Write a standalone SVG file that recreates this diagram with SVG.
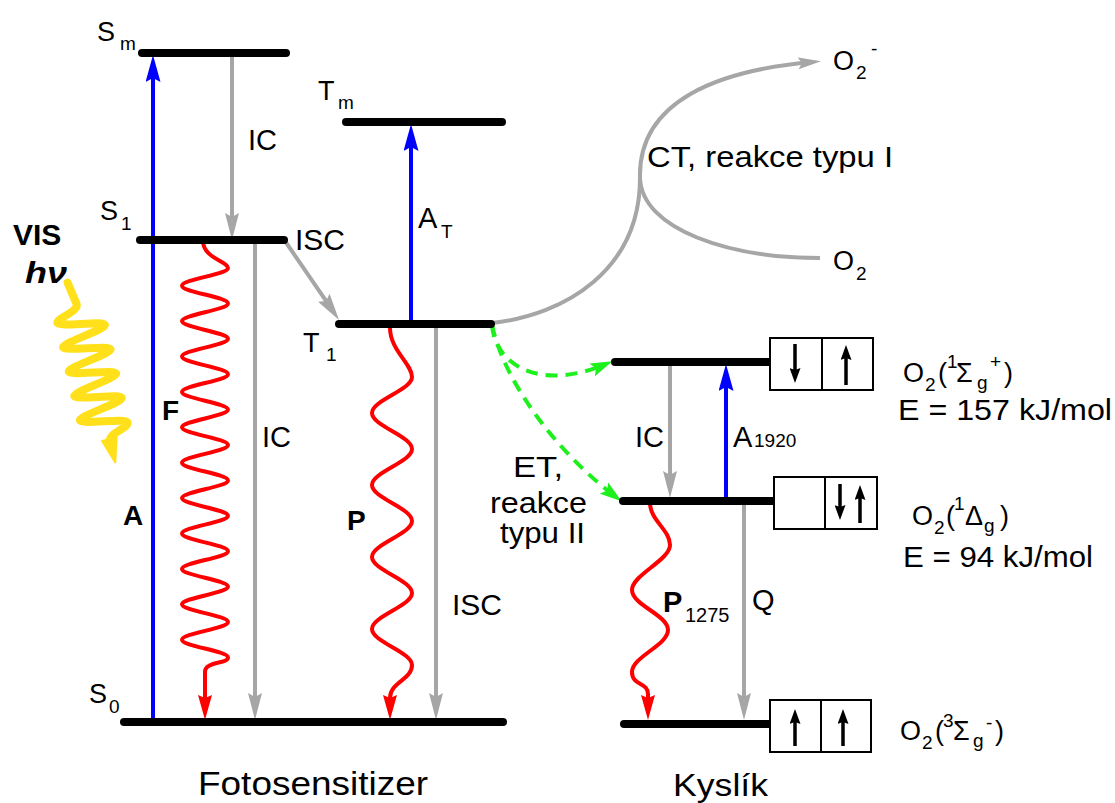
<svg xmlns="http://www.w3.org/2000/svg" width="1115" height="803" viewBox="0 0 1115 803">
<style>
.lvl{stroke:#000;stroke-width:8;stroke-linecap:round;fill:none}
.gray{stroke:#A6A6A6;stroke-width:4;fill:none}
.blue{stroke:#0000FF;stroke-width:4;fill:none}
.red{stroke:#FF0000;stroke-width:4;fill:none;stroke-linejoin:round}
.green{stroke:#1EF01E;stroke-width:4;fill:none;stroke-dasharray:12 8}
.yel{stroke:#FFE01B;stroke-width:8;fill:none;stroke-linecap:round;stroke-linejoin:round}
.box{fill:#fff;stroke:#000;stroke-width:2}
.div{stroke:#000;stroke-width:2;fill:none}
.bar{stroke:#000;stroke-width:3.5;fill:none}
text{font-family:"Liberation Sans",Arial,sans-serif;fill:#000}
.l{font-size:27px}
.s{font-size:19px}
.m{font-size:29px}
.b{font-size:28px;font-weight:bold}
</style>
<defs>
<marker id="ahGray" viewBox="0 0 27 14" markerWidth="27" markerHeight="14" refX="17" refY="7" orient="auto" markerUnits="userSpaceOnUse"><path d="M0,0 L27,7 L0,14 L4,7 z" fill="#A6A6A6"/></marker>
<marker id="ahGraySm" viewBox="0 0 23 12" markerWidth="23" markerHeight="12" refX="15" refY="6" orient="auto" markerUnits="userSpaceOnUse"><path d="M0,0 L23,6 L0,12 L4,6 z" fill="#A6A6A6"/></marker>
<marker id="ahBlue" viewBox="0 0 27 15" markerWidth="27" markerHeight="15" refX="17" refY="7.5" orient="auto" markerUnits="userSpaceOnUse"><path d="M0,0 L27,7.5 L0,15 L4,7.5 z" fill="#0000FF"/></marker>
<marker id="ahRed" viewBox="0 0 25 14" markerWidth="25" markerHeight="14" refX="15" refY="7" orient="auto" markerUnits="userSpaceOnUse"><path d="M0,0 L25,7 L0,14 L3,7 z" fill="#FF0000"/></marker>
<marker id="ahGreen" viewBox="0 0 22 14" markerWidth="22" markerHeight="14" refX="15" refY="7" orient="auto" markerUnits="userSpaceOnUse"><path d="M0,0 L22,7 L0,14 L4,7 z" fill="#1EF01E"/></marker>
<marker id="ahBlack" viewBox="0 0 15 11" markerWidth="15" markerHeight="11" refX="10" refY="5.5" orient="auto" markerUnits="userSpaceOnUse"><path d="M0,0 L15,5.5 L0,11 L2,5.5 z" fill="#000"/></marker>
</defs>
<rect width="1115" height="803" fill="#fff"/>

<g id="connectors">
  <path class="blue" d="M153,722 L153,65" marker-end="url(#ahBlue)"/>
  <path class="blue" d="M411,322 L411,134" marker-end="url(#ahBlue)"/>
  <path class="blue" d="M726,499 L726,374" marker-end="url(#ahBlue)"/>
  <path class="gray" d="M232,57 L232,230" marker-end="url(#ahGray)"/>
  <path class="gray" d="M255,244 L255,710" marker-end="url(#ahGray)"/>
  <path class="gray" d="M285,241 L333.4,311.7" marker-end="url(#ahGray)"/>
  <path class="gray" d="M436,328 L436,710" marker-end="url(#ahGray)"/>
  <path class="gray" d="M670,366 L670,488" marker-end="url(#ahGray)"/>
  <path class="gray" d="M744,505 L744,710" marker-end="url(#ahGray)"/>
  <path class="gray" d="M492,323 C565,315 640,270 640,178"/>
  <path class="gray" d="M640,178 C638,100 720,70 813,62" marker-end="url(#ahGraySm)"/>
  <path class="gray" d="M640,178 C642,230 730,258 820,258"/>
  <path class="red" marker-end="url(#ahRed)" d="M203,241 C203,258 228,261.6 228,268 S182,279.3 182,285.7 S228,297 228,303.4 S182,314.7 182,321.1 S228,332.4 228,338.8 S182,350.1 182,356.5 S228,367.8 228,374.2 S182,385.5 182,391.9 S228,403.2 228,409.6 S182,420.9 182,427.3 S228,438.6 228,445 S182,456.3 182,462.7 S228,474 228,480.4 S182,491.7 182,498.1 S228,509.4 228,515.8 S182,527.1 182,533.5 S228,544.8 228,551.2 S182,562.5 182,568.9 S228,580.2 228,586.6 S182,597.9 182,604.3 S228,615.6 228,622 S182,633.3 182,639.7 S228,651 228,657.4 C228,664 205,661 205,672 L205,710"/>
  <path class="red" marker-end="url(#ahRed)" d="M390,328 C390,350 412,364 412,377 S372,400 372,413 S412,436 412,449 S372,472 372,485 S412,508 412,521 S372,544 372,557 S412,580 412,593 S372,616 372,629 S412,652 412,665 C412,680 390,682 390,698 L390,710"/>
  <path class="red" marker-end="url(#ahRed)" d="M650,503 C650,520 670,530 670,545 S632,575 632,590 S668,615 668,630 S632,657 632,672 C632,686 648,682 648,694 L648,710"/>
  <path class="green" d="M492,325 C495,365 540,392 606,364" marker-end="url(#ahGreen)"/>
  <path class="green" d="M492,325 C505,385 560,455 616,497" marker-end="url(#ahGreen)"/>
  <text class="m" x="248" y="150">IC</text>
  <text class="m" x="295" y="250" textLength="50" lengthAdjust="spacingAndGlyphs">ISC</text>
  <text class="m" x="262" y="447">IC</text>
  <text class="m" x="452" y="615" textLength="50" lengthAdjust="spacingAndGlyphs">ISC</text>
  <text class="b" x="162" y="420">F</text>
  <text class="b" x="123" y="525">A</text>
  <text class="b" x="347" y="530">P</text>
  <text><tspan class="m" x="418" y="228">A</tspan><tspan class="s" x="441" y="238">T</tspan></text>
  <text class="m" x="647" y="167" textLength="246" lengthAdjust="spacingAndGlyphs">CT, reakce typu I</text>
  <text class="m" x="513" y="477" textLength="50" lengthAdjust="spacingAndGlyphs">ET,</text>
  <text class="m" x="490" y="513" textLength="97" lengthAdjust="spacingAndGlyphs">reakce</text>
  <text class="m" x="500" y="543" textLength="85" lengthAdjust="spacingAndGlyphs">typu II</text>
  <text class="m" x="635" y="447">IC</text>
  <text><tspan class="m" x="733" y="447">A</tspan><tspan class="s" x="754" y="447">1920</tspan></text>
  <text><tspan x="663" y="612" style="font-size:29px;font-weight:bold">P</tspan><tspan x="685" y="622" style="font-size:20px">1275</tspan></text>
  <text class="m" x="752" y="610">Q</text>
</g>

<g id="vis">
  <text x="13" y="245" style="font-size:30px;font-weight:bold">VIS</text>
  <text x="25" y="283" style="font-size:30px;font-weight:bold;font-style:italic" textLength="42" lengthAdjust="spacingAndGlyphs">hν</text>
  <g transform="translate(78,310) rotate(-13)">
    <path class="yel" d="M-4,-29 L0,-6 C1,1 -23,3.5 -23,8 S23,16 23,20.5 S-23,28.5 -23,33 S23,41 23,45.5 S-23,53.5 -23,58 S23,66 23,70.5 S-23,78.5 -23,83 S23,91 23,95.5 S-23,103.5 -23,108 S23,116 23,120.5 C23,127 2,126 1,136"/>
    <path d="M-6,133 L9,133 L2,157 z" fill="#FFE01B" stroke="#FFE01B" stroke-width="2" stroke-linejoin="round"/>
  </g>
</g>

<g id="Sm">
  <path class="lvl" d="M142,53 L286,53"/>
  <text><tspan class="l" x="97" y="41">S</tspan><tspan class="s" x="120" y="50">m</tspan></text>
</g>
<g id="S1">
  <path class="lvl" d="M140,240 L284,240"/>
  <text><tspan class="l" x="100" y="220">S</tspan><tspan class="s" x="121" y="230">1</tspan></text>
</g>
<g id="S0">
  <path class="lvl" d="M124,722 L503,722"/>
  <text><tspan class="l" x="89" y="703">S</tspan><tspan class="s" x="109" y="713">0</tspan></text>
</g>
<g id="Tm">
  <path class="lvl" d="M346,122 L502,122"/>
  <text><tspan class="l" x="318" y="100">T</tspan><tspan class="s" x="338" y="109">m</tspan></text>
</g>
<g id="T1">
  <path class="lvl" d="M339,324 L491,324"/>
  <text><tspan class="l" x="303" y="352">T</tspan><tspan class="s" x="326" y="361">1</tspan></text>
</g>

<g id="O2minus">
  <text><tspan class="l" x="833" y="70">O</tspan><tspan class="s" x="856" y="79">2</tspan><tspan class="s" x="871" y="55">-</tspan></text>
</g>
<g id="O2">
  <text><tspan class="l" x="833" y="270">O</tspan><tspan class="s" x="856" y="280">2</tspan></text>
</g>

<g id="O2_singlet_sigma">
  <path class="lvl" d="M615,362 L772,362"/>
  <rect class="box" x="770" y="338" width="103" height="52"/>
  <path class="div" d="M822,338 L822,390"/>
  <path class="bar" d="M795,344 L795,378" marker-end="url(#ahBlack)"/>
  <path class="bar" d="M846,385 L846,350" marker-end="url(#ahBlack)"/>
  <text><tspan class="l" x="903" y="382">O</tspan><tspan class="s" x="925" y="391">2</tspan><tspan class="l" x="938" y="382">(</tspan><tspan class="s" x="947" y="368">1</tspan><tspan class="l" x="956" y="382">Σ</tspan><tspan class="s" x="977" y="389">g</tspan><tspan class="s" x="990" y="368">+</tspan><tspan class="l" x="1004" y="382">)</tspan></text>
  <text class="m" x="898" y="420" textLength="214" lengthAdjust="spacingAndGlyphs">E = 157 kJ/mol</text>
</g>

<g id="O2_singlet_delta">
  <path class="lvl" d="M623,501 L776,501"/>
  <rect class="box" x="774" y="477" width="103" height="52"/>
  <path class="div" d="M825,477 L825,529"/>
  <path class="bar" d="M840,484 L840,515" marker-end="url(#ahBlack)"/>
  <path class="bar" d="M860,523 L860,490" marker-end="url(#ahBlack)"/>
  <text><tspan class="l" x="912" y="525">O</tspan><tspan class="s" x="934" y="534">2</tspan><tspan class="l" x="946" y="525">(</tspan><tspan class="s" x="954" y="510">1</tspan><tspan class="l" x="965" y="525">Δ</tspan><tspan class="s" x="984" y="532">g</tspan><tspan class="l" x="1000" y="525">)</tspan></text>
  <text class="m" x="903" y="567" textLength="190" lengthAdjust="spacingAndGlyphs">E = 94 kJ/mol</text>
</g>

<g id="O2_triplet">
  <path class="lvl" d="M624,724 L772,724"/>
  <rect class="box" x="770" y="700" width="101" height="52"/>
  <path class="div" d="M821,700 L821,752"/>
  <path class="bar" d="M795,746 L795,714" marker-end="url(#ahBlack)"/>
  <path class="bar" d="M843,746 L843,714" marker-end="url(#ahBlack)"/>
  <text><tspan class="l" x="900" y="740">O</tspan><tspan class="s" x="922" y="749">2</tspan><tspan class="l" x="935" y="740">(</tspan><tspan class="s" x="943" y="727">3</tspan><tspan class="l" x="953" y="740">Σ</tspan><tspan class="s" x="973" y="747">g</tspan><tspan class="s" x="986" y="729">-</tspan><tspan class="l" x="995" y="740">)</tspan></text>
</g>

<g id="titles">
  <text x="198" y="795" style="font-size:34px" textLength="230" lengthAdjust="spacingAndGlyphs">Fotosensitizer</text>
  <text x="673" y="796" style="font-size:32px" textLength="95" lengthAdjust="spacingAndGlyphs">Kyslík</text>
</g>
</svg>
